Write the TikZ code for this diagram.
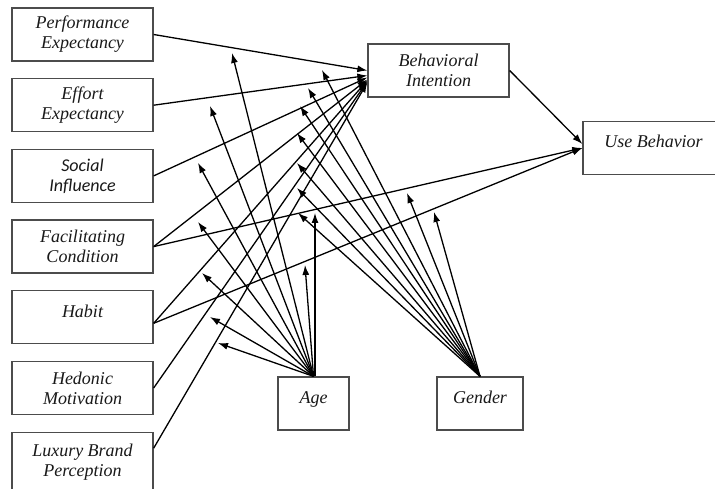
\documentclass[tikz,border=0pt]{standalone}
\usepackage{fontspec}
\setmainfont{Liberation Serif}
\newfontfamily\sansit{Carlito}
\usetikzlibrary{arrows.meta, positioning}

\begin{document}
\begin{tikzpicture}[
    x=1pt, y=1pt,
    node distance=16.4pt,
    construct/.style={rectangle, minimum width=141pt, minimum height=53pt, inner sep=2pt, align=center, draw=black!70, line width=1.3pt, font=\fontsize{18}{20}\selectfont\itshape, text=black!90},
    oneline/.style={text height=12pt, text depth=12pt},
    arrow/.style={line width=1.3pt, -{Latex[length=10pt,width=7pt]}}
]
\useasboundingbox (0,0) rectangle (715,488);
\fill[white] (0,0) rectangle (715,488);

% Nodes
\node (pe) [construct] at (82.5,453.5) {Performance\\Expectancy};
\node (ee) [construct, below=of pe] {Effort\\Expectancy};
\node (si) [construct, below=of ee, font=\fontsize{18}{20}\selectfont\sansit\itshape] {Social\\Influence};
\node (fc) [construct, below=of si] {Facilitating\\Condition};
\node (hab) [construct, oneline, below=of fc] {Habit};
\node (hm) [construct, below=of hab] {Hedonic\\Motivation};
\node (lbp) [construct, below=of hm, minimum height=60pt] {Luxury Brand\\Perception};

\node (bi) [construct] at (438.5,417.5) {Behavioral\\Intention};
\node (ub) [construct, oneline] at (653.5,340) {Use Behavior};
\node (age) [construct, oneline, minimum width=71pt] at (313.5,84.5) {Age};
\node (gen) [construct, oneline, minimum width=86pt] at (480,84.5) {Gender};

% Edges
\draw [arrow] (pe.east) -- (bi.west);
\draw [arrow] (ee.east) -- ([yshift=-5pt]bi.west);
\draw [arrow] (si.east) -- ([yshift=-7pt]bi.west);
\draw [arrow] (fc.east) -- ([yshift=-9pt]bi.west);
\draw [arrow] ([yshift=-6pt]hab.east) -- ([yshift=-10pt]bi.west);
\draw [arrow] (hm.east) -- ([yshift=-11pt]bi.west);
\draw [arrow] ([yshift=14pt]lbp.east) -- ([yshift=-12pt]bi.west);

\draw [arrow] (bi.east) -- ([yshift=4pt]ub.west);
\draw [arrow] (fc.east) -- (ub.west);
\draw [arrow] ([yshift=-6pt]hab.east) -- (ub.west);

% Moderators: Age
\coordinate (a1) at (232,435);
\coordinate (a2) at (210,382);
\coordinate (a3) at (198,325);
\coordinate (a4) at (198,266);
\coordinate (a5) at (202,215);
\coordinate (a6) at (210,171);
\coordinate (a7) at (218,145);
\coordinate (a8) at (305,223);
\coordinate (a9) at (315,275);

\draw [arrow] (age.north) -- (a1);
\draw [arrow] (age.north) -- (a2);
\draw [arrow] (age.north) -- (a3);
\draw [arrow] (age.north) -- (a4);
\draw [arrow] (age.north) -- (a5);
\draw [arrow] (age.north) -- (a6);
\draw [arrow] (age.north) -- (a7);
\draw [arrow] (age.north) -- (a8);
\draw [arrow] ([xshift=1.5pt]age.north) -- (a9);

% Moderators: Gender
\coordinate (g1) at (322,418);
\coordinate (g2) at (308,400);
\coordinate (g3) at (300,382);
\coordinate (g4) at (297,355);
\coordinate (g5) at (297,325);
\coordinate (g6) at (297,300);
\coordinate (g7) at (298,275);
\coordinate (g8) at (407,295);
\coordinate (g9) at (434,276);

\draw [arrow] (gen.north) -- (g1);
\draw [arrow] (gen.north) -- (g2);
\draw [arrow] (gen.north) -- (g3);
\draw [arrow] (gen.north) -- (g4);
\draw [arrow] (gen.north) -- (g5);
\draw [arrow] (gen.north) -- (g6);
\draw [arrow] (gen.north) -- (g7);
\draw [arrow] (gen.north) -- (g8);
\draw [arrow] (gen.north) -- (g9);

\end{tikzpicture}
\end{document}
